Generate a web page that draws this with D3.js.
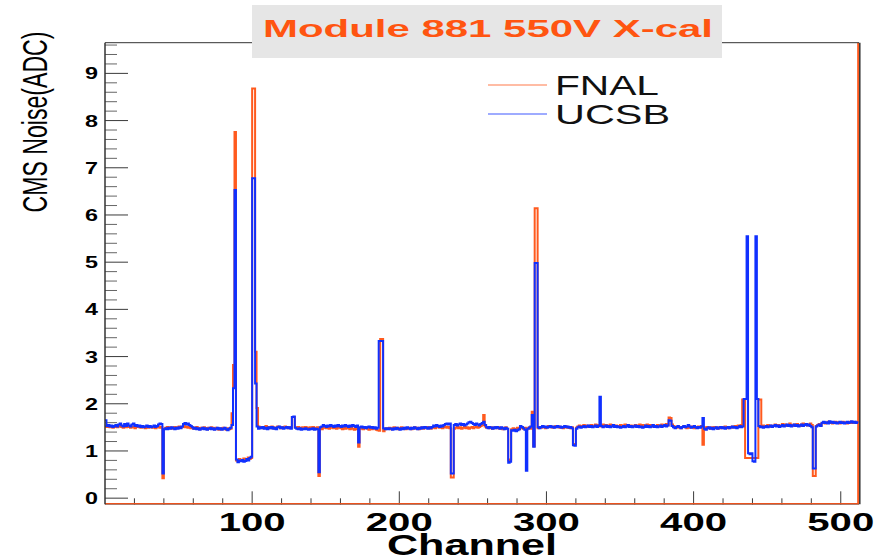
<!DOCTYPE html>
<html>
<head>
<meta charset="utf-8">
<script src="https://cdn.jsdelivr.net/npm/d3@7/dist/d3.min.js"></script>
<style>
  body { margin: 0; background: #fff; }
  svg { display: block; }
  text { font-family: "Liberation Sans", Arial, Helvetica, sans-serif; }
</style>
</head>
<body>
<svg id="chart" width="884" height="558"></svg>
<script>
// CMS noise per channel (ADC counts), channels 0..511
const fnalNoise = [
  1.52,1.51,1.53,1.50,1.52,1.49,1.51,1.53,1.50,1.52,1.54,1.51,1.49,1.52,1.50,1.53,
  1.51,1.49,1.52,1.50,1.48,1.51,1.53,1.50,1.49,1.52,1.50,1.48,1.51,1.49,1.52,1.50,
  1.49,1.51,1.48,1.50,1.52,1.49,1.51,0.42,1.47,1.49,1.51,1.48,1.50,1.47,1.49,1.51,
  1.48,1.50,1.52,1.49,1.51,1.53,1.50,1.52,1.49,1.51,1.48,1.50,1.47,1.49,1.51,1.48,
  1.46,1.49,1.47,1.50,1.48,1.46,1.49,1.47,1.50,1.48,1.46,1.49,1.47,1.45,1.48,1.46,
  1.49,1.47,1.45,1.48,1.46,1.47,1.80,2.82,7.76,0.80,0.78,0.83,0.79,0.81,0.84,0.80,
  0.82,0.86,0.83,0.85,8.68,8.68,3.10,1.91,1.52,1.49,1.51,1.48,1.50,1.53,1.49,1.51,
  1.48,1.52,1.50,1.47,1.49,1.52,1.50,1.48,1.51,1.49,1.52,1.50,1.48,1.51,1.49,1.72,
  1.72,1.50,1.48,1.51,1.49,1.47,1.50,1.48,1.51,1.49,1.47,1.50,1.48,1.51,1.49,1.47,
  1.50,0.47,1.48,1.46,1.49,1.51,1.48,1.50,1.47,1.49,1.52,1.48,1.50,1.47,1.49,1.51,
  1.48,1.46,1.49,1.47,1.50,1.48,1.46,1.49,1.47,1.45,1.48,1.46,1.09,1.47,1.49,1.46,
  1.48,1.50,1.47,1.45,1.48,1.46,1.49,1.47,1.45,1.44,1.43,3.37,3.37,1.42,1.46,1.48,
  1.47,1.49,1.46,1.48,1.50,1.47,1.49,1.46,1.48,1.50,1.47,1.49,1.46,1.48,1.47,1.49,
  1.46,1.48,1.50,1.47,1.49,1.46,1.48,1.50,1.47,1.49,1.51,1.48,1.50,1.47,1.49,1.51,
  1.48,1.50,1.52,1.49,1.51,1.48,1.50,1.52,1.49,1.51,1.48,0.44,0.44,1.47,1.49,1.51,
  1.48,1.50,1.47,1.49,1.51,1.48,1.50,1.47,1.49,1.51,1.48,1.50,1.52,1.49,1.51,1.53,
  1.55,1.76,1.52,1.49,1.51,1.48,1.50,1.47,1.49,1.51,1.48,1.50,1.47,1.49,1.46,1.48,
  1.50,1.47,0.80,0.82,1.46,1.48,1.45,1.47,1.49,1.46,1.48,1.50,1.47,1.49,1.45,1.48,
  1.50,1.47,1.83,1.10,6.14,6.14,1.48,1.51,1.49,1.52,1.50,1.48,1.51,1.53,1.50,1.52,
  1.49,1.51,1.53,1.50,1.52,1.49,1.51,1.48,1.50,1.52,1.49,1.51,1.48,1.50,1.15,1.14,
  1.49,1.52,1.54,1.51,1.53,1.55,1.52,1.54,1.51,1.53,1.55,1.52,1.54,1.56,1.53,1.55,
  1.52,1.54,1.56,1.53,1.55,1.52,1.54,1.56,1.53,1.55,1.52,1.54,1.51,1.53,1.55,1.52,
  1.54,1.56,1.53,1.55,1.52,1.54,1.51,1.53,1.55,1.52,1.54,1.56,1.53,1.55,1.52,1.54,
  1.56,1.53,1.55,1.52,1.54,1.51,1.53,1.55,1.52,1.54,1.56,1.53,1.55,1.57,1.54,1.71,
  1.70,1.56,1.53,1.51,1.49,1.52,1.50,1.48,1.51,1.53,1.50,1.48,1.51,1.49,1.52,1.50,
  1.48,1.51,1.49,1.52,1.50,1.53,1.13,1.50,1.48,1.51,1.49,1.47,1.50,1.48,1.51,1.49,
  1.47,1.50,1.48,1.51,1.49,1.52,1.50,1.48,1.51,1.49,1.52,1.50,1.53,1.51,1.54,1.52,
  1.55,2.09,2.09,0.85,0.85,0.85,0.85,0.85,0.85,0.85,0.85,0.85,2.09,2.09,1.52,1.54,
  1.51,1.53,1.55,1.52,1.54,1.51,1.53,1.56,1.53,1.55,1.52,1.54,1.57,1.54,1.56,1.53,
  1.55,1.58,1.55,1.53,1.56,1.54,1.57,1.55,1.53,1.56,1.58,1.55,1.57,1.54,1.56,1.58,
  1.55,0.47,0.47,1.53,1.55,1.57,1.54,1.59,1.61,1.58,1.60,1.62,1.59,1.61,1.58,1.60,
  1.62,1.59,1.61,1.58,1.60,1.62,1.59,1.61,1.58,1.60,1.62,1.59,1.61,1.60,1.62,1.59
];

const ucsbNoise = [
  1.65,1.53,1.55,1.52,1.54,1.51,1.53,1.55,1.52,1.56,1.58,1.54,1.52,1.57,1.53,1.58,
  1.54,1.52,1.56,1.58,1.53,1.55,1.52,1.54,1.51,1.53,1.50,1.52,1.54,1.51,1.53,1.50,
  1.52,1.54,1.51,1.53,1.56,1.58,1.57,0.52,1.46,1.48,1.46,1.49,1.47,1.50,1.48,1.46,
  1.49,1.47,1.50,1.48,1.52,1.57,1.59,1.56,1.58,1.55,1.53,1.50,1.47,1.49,1.46,1.48,
  1.45,1.47,1.49,1.46,1.48,1.45,1.47,1.49,1.46,1.48,1.45,1.47,1.49,1.46,1.48,1.45,
  1.47,1.49,1.46,1.44,1.47,1.49,1.55,2.33,6.53,0.82,0.76,0.80,0.78,0.81,0.77,0.79,
  0.83,0.80,0.85,0.88,6.78,6.78,2.43,1.52,1.47,1.50,1.48,1.51,1.47,1.49,1.46,1.50,
  1.48,1.51,1.47,1.49,1.46,1.50,1.52,1.48,1.50,1.47,1.49,1.51,1.48,1.50,1.47,1.72,
  1.73,1.49,1.47,1.46,1.48,1.45,1.47,1.46,1.48,1.46,1.45,1.47,1.46,1.48,1.45,1.47,
  1.46,0.55,1.50,1.52,1.55,1.53,1.51,1.54,1.52,1.55,1.53,1.51,1.54,1.52,1.55,1.53,
  1.51,1.54,1.52,1.55,1.53,1.51,1.54,1.52,1.55,1.53,1.51,1.54,1.18,1.50,1.52,1.49,
  1.51,1.48,1.50,1.52,1.49,1.51,1.48,1.50,1.47,1.49,3.33,3.33,3.33,1.48,1.46,1.48,
  1.46,1.48,1.47,1.45,1.48,1.46,1.49,1.47,1.45,1.48,1.46,1.49,1.47,1.50,1.48,1.46,
  1.49,1.47,1.50,1.48,1.46,1.49,1.47,1.50,1.48,1.51,1.49,1.47,1.50,1.48,1.51,1.54,
  1.52,1.55,1.53,1.51,1.54,1.52,1.55,1.57,1.58,1.56,1.58,0.52,0.52,1.55,1.57,1.54,
  1.56,1.58,1.55,1.57,1.54,1.56,1.58,1.61,1.62,1.59,1.57,1.55,1.58,1.56,1.54,1.57,
  1.59,1.62,1.55,1.50,1.48,1.51,1.49,1.47,1.50,1.48,1.51,1.49,1.47,1.50,1.48,1.46,
  1.49,1.47,0.75,0.77,1.44,1.43,1.45,1.42,1.44,1.46,1.53,1.51,1.48,1.45,0.58,1.47,
  1.49,1.52,1.76,1.09,4.98,4.98,1.50,1.48,1.51,1.53,1.50,1.52,1.49,1.51,1.53,1.50,
  1.52,1.49,1.51,1.53,1.50,1.52,1.49,1.51,1.53,1.50,1.52,1.49,1.51,1.48,1.12,1.11,
  1.47,1.50,1.52,1.49,1.51,1.53,1.50,1.52,1.54,1.51,1.53,1.50,1.52,1.54,1.51,1.53,
  2.15,1.53,1.50,1.52,1.54,1.51,1.53,1.50,1.52,1.55,1.51,1.53,1.50,1.52,1.49,1.51,
  1.53,1.50,1.52,1.55,1.51,1.53,1.50,1.52,1.54,1.51,1.53,1.50,1.52,1.49,1.51,1.54,
  1.51,1.53,1.50,1.52,1.55,1.51,1.53,1.50,1.52,1.54,1.51,1.53,1.55,1.52,1.54,1.65,
  1.64,1.53,1.50,1.48,1.51,1.53,1.50,1.48,1.51,1.53,1.50,1.52,1.55,1.52,1.49,1.51,
  1.53,1.50,1.48,1.51,1.49,1.52,1.70,1.47,1.45,1.48,1.50,1.47,1.49,1.46,1.48,1.50,
  1.47,1.49,1.51,1.48,1.50,1.47,1.49,1.51,1.48,1.50,1.52,1.49,1.51,1.48,1.50,1.53,
  1.50,1.52,2.10,2.10,5.55,0.95,0.93,0.95,0.78,0.77,5.55,2.10,1.53,1.50,1.52,1.49,
  1.51,1.53,1.50,1.52,1.54,1.51,1.53,1.55,1.52,1.54,1.51,1.53,1.55,1.52,1.54,1.56,
  1.53,1.55,1.52,1.54,1.56,1.53,1.55,1.52,1.54,1.56,1.53,1.55,1.57,1.54,1.56,1.53,
  1.50,0.63,0.63,1.52,1.54,1.56,1.53,1.60,1.62,1.59,1.61,1.58,1.63,1.60,1.62,1.59,
  1.61,1.58,1.60,1.62,1.59,1.61,1.58,1.60,1.62,1.59,1.61,1.63,1.60,1.62,1.59,1.61
];

const seriesNames = ["FNAL", "UCSB"];
const xTickValues = [100, 200, 300, 400, 500];
const yTickValues = [0, 1, 2, 3, 4, 5, 6, 7, 8, 9];
const titleText = "Module 881 550V X-cal";
const xAxisTitle = "Channel";
const yAxisTitle = "CMS Noise(ADC)";

const colors = { FNAL: "#ff5a1e", UCSB: "#1030ff" };
const svg = d3.select("#chart");

// frame of the pad
const frame = { left: 105, right: 859, top: 42.7, bottom: 504.3 };
const nChannels = fnalNoise.length;

const x = d3.scaleLinear().domain([0, 512.4]).range([frame.left, frame.right]);
const y = d3.scaleLinear().domain([-0.13, 9.65]).range([frame.bottom, frame.top]);

svg.append("rect").attr("width", 884).attr("height", 558).attr("fill", "#fff");

svg.append("defs").append("clipPath").attr("id", "plotClip")
  .append("rect")
  .attr("x", frame.left).attr("y", frame.top)
  .attr("width", frame.right - frame.left).attr("height", frame.bottom - frame.top);

// ticks (drawn inside the frame)
const axisG = svg.append("g").attr("stroke", "#3a3a3a").attr("stroke-width", 1);
const yMinor = d3.range(0.2, 9.65, 0.2).filter(v => Math.abs(v - Math.round(v)) > 0.01);
yMinor.forEach(v => {
  axisG.append("line").attr("x1", frame.left).attr("x2", frame.left + 12)
    .attr("y1", y(v)).attr("y2", y(v)).attr("stroke", "#666");
});
yTickValues.forEach(v => {
  axisG.append("line").attr("x1", frame.left).attr("x2", frame.left + 23)
    .attr("y1", y(v)).attr("y2", y(v));
});
const xMinor = d3.range(20, 512, 20).filter(v => v % 100 !== 0);
xMinor.forEach(v => {
  axisG.append("line").attr("x1", x(v)).attr("x2", x(v))
    .attr("y1", frame.bottom).attr("y2", frame.bottom - 6);
});
xTickValues.forEach(v => {
  axisG.append("line").attr("x1", x(v)).attr("x2", x(v))
    .attr("y1", frame.bottom).attr("y2", frame.bottom - 13);
});

// step histograms
function stepPath(values) {
  const pts = values.map((v, i) => [i, v]);
  pts.push([values.length, values[values.length - 1]]);
  return d3.line().x(d => x(d[0])).y(d => y(d[1])).curve(d3.curveStepAfter)(pts);
}

const plotG = svg.append("g").attr("clip-path", "url(#plotClip)");
plotG.append("path")
  .attr("d", stepPath(fnalNoise))
  .attr("fill", "none").attr("stroke", colors.FNAL).attr("stroke-width", 2);

// closing edge of the FNAL outline along the right side and the bottom
plotG.append("path")
  .attr("d", d3.line()([[x(nChannels), y(9.65)], [x(nChannels), y(-0.13)], [x(0), y(-0.13)]]))
  .attr("fill", "none").attr("stroke", colors.FNAL).attr("stroke-width", 2.5);

plotG.append("path")
  .attr("d", stepPath(ucsbNoise))
  .attr("fill", "none").attr("stroke", colors.UCSB).attr("stroke-width", 2);

// frame lines
svg.append("line").attr("x1", frame.left).attr("x2", frame.left)
  .attr("y1", frame.top).attr("y2", frame.bottom)
  .attr("stroke", "#333").attr("stroke-width", 1.5);
svg.append("line").attr("x1", frame.left).attr("x2", frame.right)
  .attr("y1", frame.top).attr("y2", frame.top)
  .attr("stroke", "#333").attr("stroke-width", 1);
svg.append("line").attr("x1", frame.left).attr("x2", frame.right)
  .attr("y1", frame.bottom).attr("y2", frame.bottom)
  .attr("stroke", "#5a2010").attr("stroke-width", 1).attr("opacity", 0.6);
svg.append("line").attr("x1", frame.right + 0.8).attr("x2", frame.right + 0.8)
  .attr("y1", frame.top).attr("y2", frame.bottom)
  .attr("stroke", "#333").attr("stroke-width", 1.5);

// tick labels
yTickValues.forEach(v => {
  svg.append("text")
    .attr("x", 98).attr("y", y(v) + 6)
    .attr("text-anchor", "end")
    .attr("font-size", 17).attr("font-weight", "bold")
    .attr("textLength", 13).attr("lengthAdjust", "spacingAndGlyphs")
    .text(v);
});
xTickValues.forEach(v => {
  svg.append("text")
    .attr("x", x(v)).attr("y", 531)
    .attr("text-anchor", "middle")
    .attr("font-size", 25).attr("font-weight", "bold")
    .attr("textLength", 67).attr("lengthAdjust", "spacingAndGlyphs")
    .text(v);
});

// axis titles
svg.append("text")
  .attr("x", 472).attr("y", 555)
  .attr("text-anchor", "middle")
  .attr("font-size", 29).attr("font-weight", "bold")
  .attr("textLength", 170).attr("lengthAdjust", "spacingAndGlyphs")
  .text(xAxisTitle);

svg.append("text")
  .attr("transform", "translate(47,122) scale(1.5,1) rotate(-90)")
  .attr("text-anchor", "middle")
  .attr("font-size", 23)
  .attr("textLength", 181).attr("lengthAdjust", "spacingAndGlyphs")
  .text(yAxisTitle);

// title box
svg.append("rect")
  .attr("x", 252).attr("y", 5).attr("width", 470).attr("height", 53)
  .attr("fill", "#e6e6e6");
svg.append("text")
  .attr("x", 488).attr("y", 37)
  .attr("text-anchor", "middle")
  .attr("font-size", 24).attr("font-weight", "bold")
  .attr("fill", "#ff5511")
  .attr("textLength", 450).attr("lengthAdjust", "spacingAndGlyphs")
  .text(titleText);

// legend
const legendRows = [
  { name: seriesNames[0], y: 85, len: 104 },
  { name: seriesNames[1], y: 114, len: 115 }
];
legendRows.forEach(r => {
  svg.append("line")
    .attr("x1", 488).attr("x2", 547).attr("y1", r.y).attr("y2", r.y)
    .attr("stroke", colors[r.name]).attr("stroke-width", 1.2).attr("opacity", 0.8);
  svg.append("text")
    .attr("x", 555).attr("y", r.y + 10)
    .attr("font-size", 28)
    .attr("fill", "#111")
    .attr("textLength", r.len).attr("lengthAdjust", "spacingAndGlyphs")
    .text(r.name);
});
</script>
</body>
</html>
